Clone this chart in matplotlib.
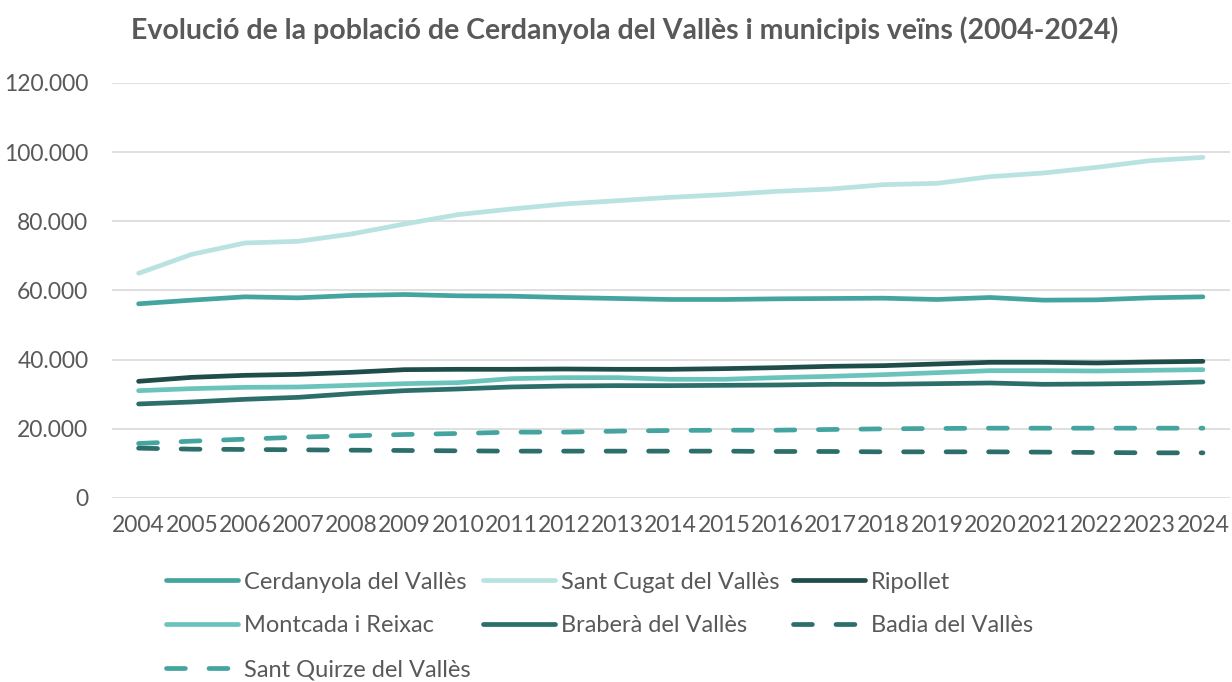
import matplotlib
matplotlib.use("Agg")
import matplotlib.pyplot as plt
from matplotlib.ticker import FuncFormatter

plt.rcParams['font.family'] = ['Lato', 'DejaVu Sans']

years = list(range(2004, 2025))

cerdanyola = [56150, 57210, 58170, 57880, 58550, 58840, 58460, 58360, 57980, 57690,
              57400, 57400, 57590, 57690, 57780, 57400, 57980, 57210, 57300, 57880, 58170]
sant_cugat = [64970, 70460, 73740, 74220, 76340, 79230, 81930, 83560, 85010, 85970,
              86940, 87710, 88670, 89340, 90600, 90980, 92910, 93970, 95610, 97530, 98500]
ripollet = [33740, 34890, 35470, 35760, 36340, 37110, 37210, 37210, 37300, 37210,
            37210, 37400, 37690, 38070, 38270, 38750, 39230, 39230, 39040, 39330, 39520]
montcada = [31040, 31620, 32000, 32100, 32580, 33060, 33350, 34510, 34800, 34800,
            34320, 34320, 34800, 35180, 35660, 36240, 36820, 36820, 36720, 36920, 37110]
barbera = [27190, 27770, 28540, 29110, 30170, 31040, 31520, 32100, 32390, 32490,
           32490, 32580, 32680, 32870, 32870, 33060, 33260, 32870, 32970, 33160, 33550]
badia = [14410, 14120, 14030, 13930, 13830, 13740, 13640, 13550, 13550, 13550,
         13550, 13550, 13450, 13450, 13350, 13350, 13350, 13260, 13160, 13060, 13060]
sant_quirze = [15760, 16440, 17010, 17590, 17980, 18360, 18650, 19040, 19040, 19330,
               19520, 19610, 19610, 19810, 20000, 20100, 20190, 20190, 20190, 20190, 20190]

series = [
    ("Cerdanyola del Vallès", cerdanyola, "#44A5A0", "-"),
    ("Sant Cugat del Vallès", sant_cugat, "#B9E3E0", "-"),
    ("Ripollet", ripollet, "#1E4D4A", "-"),
    ("Montcada i Reixac", montcada, "#6BC4BC", "-"),
    ("Braberà del Vallès", barbera, "#2C6E6A", "-"),
    ("Badia del Vallès", badia, "#2C6E6A", "--"),
    ("Sant Quirze del Vallès", sant_quirze, "#44A5A0", "--"),
]

grey = "#595959"

fig = plt.figure(figsize=(12.32, 6.82), dpi=100)
ax = fig.add_axes([0.0909, 0.2698, 0.9071, 0.6085])

lines = {}
for name, vals, color, ls in series:
    ln, = ax.plot(years, vals, color=color, linewidth=3.4, linestyle=ls,
                  solid_capstyle='round', dash_capstyle='round', label=name)
    if ls == "--":
        ln.set_dashes((4.0, 5.0))
    lines[name] = ln

ax.set_xlim(2003.5, 2024.5)
ax.set_ylim(0, 120000)
ax.set_yticks(range(0, 120001, 20000))
ax.yaxis.set_major_formatter(FuncFormatter(lambda v, p: f"{int(v):,}".replace(",", ".")))
ax.set_xticks(years)
ax.grid(axis='y', color="#D9D9D9", linewidth=1.2)
ax.set_axisbelow(True)
for s in ax.spines.values():
    s.set_visible(False)
ax.tick_params(length=0, labelsize=16.5, labelcolor=grey)
ax.tick_params(axis='y', pad=17)
ax.tick_params(axis='x', pad=12)

fig.text(0.507, 0.955, "Evolució de la població de Cerdanyola del Vallès i municipis veïns (2004-2024)",
         ha='center', va='center', fontsize=20.5, fontweight='bold', color=grey)

order = ["Cerdanyola del Vallès", "Montcada i Reixac", "Sant Quirze del Vallès",
         "Sant Cugat del Vallès", "Braberà del Vallès", "Ripollet", "Badia del Vallès"]
leg = fig.legend([lines[n] for n in order], order, ncol=3, loc='upper left',
                 bbox_to_anchor=(0.1345, 0.162), frameon=False, fontsize=17,
                 handlelength=3.05, handletextpad=0.25, columnspacing=0.55,
                 labelspacing=0.97, borderpad=0, borderaxespad=0)
for t in leg.get_texts():
    t.set_color(grey)

fig.savefig("out.png", dpi=100)
